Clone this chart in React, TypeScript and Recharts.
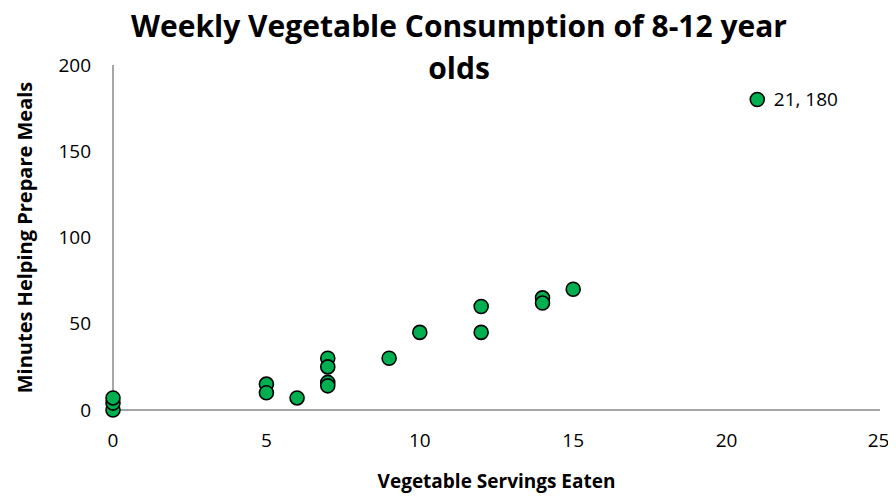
import React from "react"
import {
  ScatterChart,
  Scatter,
  XAxis,
  YAxis,
  LabelList
} from "recharts"

const servings = [0, 0, 0, 5, 5, 6, 7, 7, 7, 7, 9, 10, 12, 12, 14, 14, 15, 21]
const minutes = [0, 4, 7, 15, 10, 7, 30, 25, 16, 14, 30, 45, 60, 45, 65, 62, 70, 180]
const xTicks = [0, 5, 10, 15, 20, 25]
const yTicks = [0, 50, 100, 150, 200]
const labelledPoint = "21, 180"

const FONT = "'Open Sans', sans-serif"
const AXIS_GRAY = "#a6a6a6"

const data = servings.map((x, i) => ({ x, y: minutes[i] }))

function Dot(props: any) {
  const { cx, cy } = props
  return <circle cx={cx} cy={cy} r={7} fill="#00b050" stroke="#000" strokeWidth={1.6} />
}

function PointLabel(props: any) {
  const { x, y, width, height, index } = props
  if (index !== data.length - 1) return null
  return (
    <text
      x={x + width + 12}
      y={y + height / 2}
      dy="0.35em"
      fontFamily={FONT}
      fontSize={19}
      fill="#000"
    >
      {labelledPoint}
    </text>
  )
}

export default function App() {
  return (
    <div style={{ position: "relative", width: 880, height: 489, fontFamily: FONT }}>
      <div
        style={{
          position: "absolute",
          left: 60,
          width: 782,
          top: -3,
          textAlign: "center",
          fontSize: 30,
          fontWeight: 700,
          lineHeight: "42px",
          color: "#000"
        }}
      >
        Weekly Vegetable Consumption of 8-12 year
        <br />
        olds
      </div>
      <ScatterChart
        width={880}
        height={489}
        margin={{ top: 57, right: 8, bottom: 0, left: 11 }}
      >
        <XAxis
          type="number"
          dataKey="x"
          domain={[0, 25]}
          ticks={xTicks}
          tickLine={false}
          tickSize={0}
          tickMargin={24}
          height={87}
          axisLine={{ stroke: AXIS_GRAY, strokeWidth: 2 }}
          tick={{ fill: "#000", fontSize: 19, fontFamily: FONT }}
          label={{
            value: "Vegetable Servings Eaten",
            position: "insideBottom",
            offset: 9,
            fill: "#000",
            fontSize: 19,
            fontWeight: 700,
            fontFamily: FONT
          }}
        />
        <YAxis
          type="number"
          dataKey="y"
          domain={[0, 200]}
          ticks={yTicks}
          tickLine={false}
          tickSize={0}
          tickMargin={22}
          width={94}
          axisLine={{ stroke: AXIS_GRAY, strokeWidth: 2 }}
          tick={{ fill: "#000", fontSize: 19, fontFamily: FONT }}
          label={{
            value: "Minutes Helping Prepare Meals",
            angle: -90,
            position: "insideLeft",
            offset: 6,
            fill: "#000",
            fontSize: 20,
            fontWeight: 700,
            fontFamily: FONT,
            style: { textAnchor: "middle" }
          }}
        />
        <Scatter
          data={data}
          shape={<Dot />}
          isAnimationActive={false}
        >
          <LabelList dataKey="y" content={<PointLabel />} />
        </Scatter>
      </ScatterChart>
    </div>
  )
}
